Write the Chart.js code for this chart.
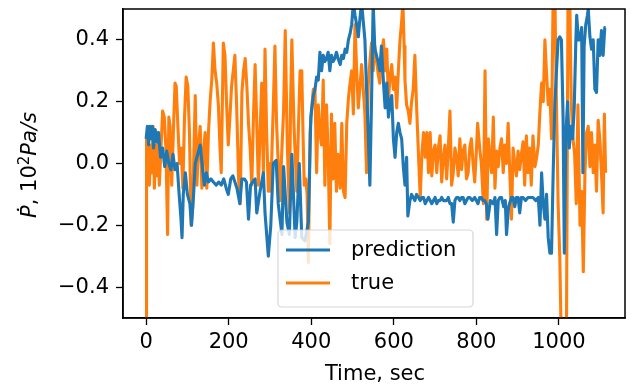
<!DOCTYPE html>
<html>
<head>
<meta charset="utf-8">
<script src="https://cdn.jsdelivr.net/npm/chart.js@4/dist/chart.umd.min.js"></script>
<style>
  body { margin: 0; background: #fff; }
  #wrap { width: 631px; height: 388px; }
</style>
</head>
<body>
<div id="wrap"><canvas id="graph" width="631" height="388"></canvas></div>
<script>
// values
const predTime = [0, 3, 6, 9, 12, 15, 18, 22, 26, 30, 35, 40, 45, 50, 55, 60, 65, 70, 75, 80, 84, 87, 90, 95, 100, 106, 110, 115, 119, 125, 131, 137, 141, 146, 151, 157, 163, 170, 176, 182, 188, 194, 199, 205, 210, 215, 220, 227, 232, 238, 243, 248, 253, 258, 264, 268, 276, 284, 288, 296, 302, 308, 315, 320, 329, 333, 341, 347, 353, 361, 365, 371, 377, 385, 393, 399, 405, 409, 413, 417, 421, 425, 429, 433, 437, 441, 445, 449, 453, 457, 461, 465, 470, 474, 478, 482, 486, 490, 494, 498, 502, 506, 510, 514, 518, 522, 526, 530, 534, 538, 542, 546, 550, 554, 558, 562, 566, 570, 575, 579, 583, 587, 591, 595, 599, 603, 607, 611, 615, 619, 623, 627, 631, 634, 639, 643, 647, 651, 655, 660, 664, 668, 672, 676, 680, 684, 688, 692, 696, 700, 704, 708, 712, 716, 720, 724, 728, 732, 736, 740, 744, 748, 752, 756, 760, 764, 768, 772, 776, 780, 784, 790, 796, 804, 808, 812, 816, 820, 824, 828, 834, 841, 845, 849, 853, 857, 861, 866, 870, 873, 878, 885, 889, 893, 897, 901, 905, 909, 913, 919, 925, 931, 937, 944, 950, 954, 958, 962, 966, 970, 974, 978, 982, 986, 990, 994, 998, 1002, 1006, 1010, 1013, 1017, 1021, 1025, 1029, 1033, 1037, 1041, 1043, 1047, 1051, 1055, 1058, 1061, 1065, 1069, 1071, 1075, 1079, 1083, 1087, 1091, 1095, 1099, 1103, 1107, 1111, 1113];
const predValue = [0.08, 0.12, 0.06, 0.12, 0.08, 0.12, 0.05, 0.11, 0.07, 0.10, 0.02, 0.05, -0.01, 0.04, 0.00, -0.02, 0.03, -0.02, 0.00, -0.10, -0.17, -0.24, -0.10, -0.03, -0.10, -0.13, -0.20, -0.10, 0.00, 0.03, 0.06, -0.02, -0.07, -0.03, -0.06, -0.05, -0.06, -0.07, -0.06, -0.07, -0.05, -0.08, -0.10, -0.05, -0.04, -0.06, -0.08, -0.13, -0.05, -0.05, -0.06, -0.18, -0.07, -0.06, -0.05, -0.16, -0.09, -0.03, -0.16, -0.30, -0.20, 0.00, 0.01, -0.13, -0.23, -0.01, -0.19, -0.23, 0.03, -0.24, -0.19, 0.00, -0.24, -0.25, -0.19, 0.15, 0.22, 0.24, 0.28, 0.27, 0.36, 0.30, 0.35, 0.33, 0.34, 0.36, 0.30, 0.35, 0.33, 0.34, 0.36, 0.34, 0.32, 0.35, 0.34, 0.37, 0.36, 0.40, 0.42, 0.45, 0.52, 0.48, 0.45, 0.41, 0.47, 0.52, 0.46, 0.40, 0.24, 0.10, -0.07, 0.20, 0.52, 0.37, 0.35, 0.33, 0.30, 0.38, 0.26, 0.18, 0.26, 0.15, 0.20, 0.22, 0.08, 0.02, 0.10, 0.13, 0.10, 0.08, -0.01, -0.07, 0.02, -0.17, -0.12, -0.10, -0.11, -0.12, -0.10, -0.11, -0.12, -0.11, -0.11, -0.13, -0.12, -0.11, -0.12, -0.13, -0.12, -0.11, -0.13, -0.12, -0.12, -0.11, -0.12, -0.12, -0.12, -0.11, -0.13, -0.13, -0.19, -0.12, -0.11, -0.11, -0.12, -0.11, -0.11, -0.13, -0.12, -0.11, -0.11, -0.12, -0.11, -0.13, -0.11, -0.11, -0.12, -0.12, -0.13, -0.18, -0.12, -0.13, -0.11, -0.23, -0.12, -0.11, -0.11, -0.14, -0.12, -0.23, -0.14, -0.11, -0.11, -0.14, -0.11, -0.11, -0.16, -0.11, -0.11, -0.12, -0.11, -0.11, -0.11, -0.12, -0.11, -0.20, -0.03, -0.13, -0.18, -0.10, -0.24, -0.29, -0.29, -0.03, 0.19, 0.30, 0.40, 0.41, 0.40, 0.15, -0.29, 0.10, 0.20, 0.05, 0.12, 0.08, 0.18, 0.40, 0.48, 0.40, 0.40, 0.44, -0.03, 0.38, 0.45, 0.48, 0.50, 0.41, 0.37, 0.40, 0.24, 0.23, 0.40, 0.35, 0.43, 0.35, 0.44, 0.44];

const trueTime = [0, 1, 3, 5, 8, 11, 14, 17, 20, 23, 26, 29, 32, 36, 40, 44, 48, 52, 55, 58, 62, 66, 70, 73, 77, 81, 85, 89, 93, 97, 101, 105, 109, 113, 116, 119, 123, 127, 131, 135, 139, 143, 147, 151, 155, 159, 163, 167, 171, 175, 179, 182, 187, 191, 195, 199, 203, 207, 211, 215, 219, 224, 228, 232, 236, 240, 244, 248, 252, 256, 260, 264, 268, 272, 276, 280, 284, 288, 292, 296, 299, 302, 305, 308, 312, 316, 320, 324, 328, 333, 337, 342, 347, 350, 353, 358, 362, 365, 369, 373, 377, 380, 383, 387, 390, 393, 397, 401, 405, 409, 413, 417, 421, 425, 429, 433, 437, 441, 445, 449, 453, 457, 461, 465, 470, 474, 478, 482, 486, 490, 494, 498, 502, 506, 510, 514, 518, 522, 526, 530, 534, 538, 542, 546, 550, 554, 558, 562, 566, 570, 575, 579, 583, 587, 591, 595, 599, 603, 607, 611, 615, 619, 622, 625, 627, 631, 635, 639, 643, 647, 651, 655, 660, 664, 668, 672, 676, 680, 684, 688, 692, 696, 700, 704, 708, 712, 716, 720, 724, 728, 732, 736, 740, 744, 748, 752, 756, 760, 764, 768, 772, 776, 780, 784, 788, 792, 796, 800, 803, 808, 812, 817, 821, 825, 829, 833, 837, 841, 845, 849, 853, 857, 861, 865, 869, 873, 877, 881, 885, 889, 893, 897, 901, 905, 909, 913, 917, 921, 925, 929, 933, 937, 942, 946, 950, 954, 958, 962, 966, 970, 974, 978, 982, 986, 990, 994, 998, 1002, 1006, 1012, 1018, 1022, 1026, 1030, 1034, 1038, 1042, 1046, 1051, 1055, 1059, 1063, 1067, 1071, 1075, 1079, 1083, 1087, 1091, 1095, 1099, 1103, 1107, 1110, 1113];
const trueValue = [-0.6, 0.09, -0.05, 0.10, -0.07, 0.06, -0.03, 0.12, -0.08, 0.06, -0.04, 0.10, -0.07, 0.05, 0.17, 0.15, 0.05, -0.23, 0.15, 0.12, -0.07, 0.10, 0.26, 0.25, 0.12, 0.00, 0.05, -0.08, 0.15, 0.28, 0.25, 0.10, -0.20, -0.14, 0.05, 0.22, -0.07, 0.06, 0.12, -0.08, 0.04, 0.10, -0.08, 0.10, 0.20, 0.27, 0.39, 0.30, 0.26, 0.19, 0.05, -0.03, 0.39, 0.35, 0.19, 0.06, 0.15, 0.25, 0.30, 0.35, 0.20, -0.05, -0.13, 0.23, 0.30, 0.34, 0.25, 0.13, 0.05, -0.07, 0.15, 0.32, 0.13, -0.07, 0.10, 0.26, -0.03, 0.37, 0.10, -0.09, 0.00, -0.09, 0.05, 0.18, 0.38, 0.13, 0.00, -0.12, 0.02, 0.17, 0.43, 0.06, -0.16, 0.20, 0.40, 0.13, 0.00, -0.09, 0.12, 0.30, 0.30, 0.10, -0.07, -0.05, -0.10, -0.32, 0.10, 0.18, 0.24, 0.24, -0.03, 0.19, 0.10, 0.06, 0.27, -0.07, 0.19, 0.03, -0.26, 0.16, -0.05, 0.13, -0.09, 0.03, -0.08, 0.13, -0.09, -0.11, 0.13, 0.21, 0.26, 0.30, 0.16, 0.45, 0.30, 0.18, 0.25, 0.32, 0.24, 0.16, -0.03, 0.25, 0.33, 0.39, 0.30, 0.38, 0.34, 0.29, 0.26, 0.35, 0.40, 0.30, 0.37, 0.21, 0.28, 0.32, 0.24, 0.28, 0.18, 0.30, 0.40, 0.46, 0.52, 0.38, 0.27, 0.19, 0.17, 0.13, 0.20, 0.24, 0.35, 0.19, 0.02, -0.11, 0.03, 0.10, 0.02, 0.10, -0.03, 0.10, -0.04, 0.04, 0.06, -0.03, 0.05, 0.09, -0.06, 0.02, 0.06, -0.05, 0.05, 0.17, -0.07, -0.03, 0.05, 0.02, -0.04, 0.08, -0.02, 0.04, 0.06, -0.05, -0.03, 0.05, 0.08, 0.00, -0.06, 0.04, 0.13, 0.05, 0.00, -0.13, 0.30, -0.18, 0.08, 0.02, -0.03, 0.15, -0.08, 0.04, -0.01, 0.05, 0.08, -0.03, 0.06, 0.00, 0.13, -0.03, -0.18, 0.05, 0.00, -0.04, 0.04, -0.02, 0.03, 0.07, -0.07, 0.09, -0.03, 0.05, -0.07, 0.09, -0.01, 0.02, 0.06, 0.17, 0.26, 0.20, 0.40, 0.29, 0.19, 0.24, 0.08, 0.55, 0.55, 0.19, -0.13, -0.30, -0.6, -0.6, -0.6, 0.55, 0.55, 0.19, 0.08, 0.03, -0.13, 0.19, -0.20, -0.09, -0.35, -0.03, 0.10, 0.12, -0.01, 0.10, -0.03, 0.06, -0.09, 0.14, 0.08, -0.03, -0.16, 0.16, -0.03];

const xTicks = [0, 200, 400, 600, 800, 1000];
const yTicks = [-0.4, -0.2, 0.0, 0.2, 0.4];
const seriesNames = ['prediction', 'true'];
const seriesColors = ['#1f77b4', '#ff7f0e'];

const FONT = "'DejaVu Sans', sans-serif";

function toPoints(xs, ys) {
    return xs.map((x, i) => ({ x: x, y: ys[i] }));
}

// no extra room for half tick labels, the plot box is placed by hand
function noPadding(s) {
    s.paddingTop = 0;
    s.paddingBottom = 0;
    s.paddingLeft = 0;
    s.paddingRight = 0;
}

// frame, axis titles and the legend box inside the plot
const decorations = {
    id: 'decorations',
    afterDatasetsDraw(chart) {
        const ctx = chart.ctx;
        const a = chart.chartArea;
        ctx.save();

        ctx.strokeStyle = '#000';
        ctx.lineWidth = 1.5;
        ctx.strokeRect(a.left, a.top, a.right - a.left, a.bottom - a.top);

        // legend
        const lx = 278, ly = 230, lw = 195, lh = 77, r = 4;
        ctx.beginPath();
        ctx.roundRect(lx, ly, lw, lh, r);
        ctx.fillStyle = 'rgba(255,255,255,0.8)';
        ctx.fill();
        ctx.strokeStyle = 'rgba(204,204,204,0.8)';
        ctx.lineWidth = 1.2;
        ctx.stroke();

        ctx.font = '21px ' + FONT;
        ctx.textBaseline = 'middle';
        ctx.textAlign = 'left';
        [250, 283].forEach((yy, i) => {
            ctx.strokeStyle = seriesColors[i];
            ctx.lineWidth = 3.1;
            ctx.beginPath();
            ctx.moveTo(286, yy);
            ctx.lineTo(330, yy);
            ctx.stroke();
            ctx.fillStyle = '#000';
            ctx.fillText(seriesNames[i], 351, yy + 1);
        });

        // x title
        ctx.textAlign = 'center';
        ctx.fillText('Time, sec', 375, 375);

        // y title, built from pieces like mathtext
        const parts = [
            { t: 'Ṗ', f: 'italic 21px ' + FONT, dy: 0 },
            { t: ', 10', f: '21px ' + FONT, dy: 0 },
            { t: '2', f: '15px ' + FONT, dy: -7 },
            { t: 'Pa/s', f: 'italic 21px ' + FONT, dy: 0 }
        ];
        let total = 0;
        parts.forEach(p => { ctx.font = p.f; p.w = ctx.measureText(p.t).width; total += p.w; });
        ctx.translate(29, 165);
        ctx.rotate(-Math.PI / 2);
        ctx.textAlign = 'left';
        ctx.textBaseline = 'alphabetic';
        let px = -total / 2;
        parts.forEach(p => {
            ctx.font = p.f;
            ctx.fillText(p.t, px, 7 + p.dy);
            px += p.w;
        });
        ctx.restore();
    }
};

const ctx = document.getElementById('graph').getContext('2d');
new Chart(ctx, {
    type: 'line',
    data: {
        datasets: [
            {
                label: seriesNames[0],
                data: toPoints(predTime, predValue),
                borderColor: seriesColors[0],
                borderWidth: 3.1,
                pointRadius: 0,
                tension: 0,
                borderJoinStyle: 'round',
                fill: false
            },
            {
                label: seriesNames[1],
                data: toPoints(trueTime, trueValue),
                borderColor: seriesColors[1],
                borderWidth: 3.1,
                pointRadius: 0,
                tension: 0,
                borderJoinStyle: 'round',
                fill: false
            }
        ]
    },
    options: {
        responsive: false,
        animation: false,
        layout: { padding: { top: 9, right: 6, left: 0, bottom: 0 } },
        plugins: {
            legend: { display: false },
            tooltip: { enabled: false }
        },
        scales: {
            x: {
                type: 'linear',
                min: -56,
                max: 1160,
                afterFit: s => { s.height = 70; noPadding(s); },
                afterBuildTicks: s => { s.ticks = xTicks.map(v => ({ value: v })); },
                grid: { drawOnChartArea: false, tickLength: 7, tickColor: '#000', tickWidth: 1.3 },
                border: { display: true, color: '#000', width: 1.5 },
                ticks: {
                    color: '#000',
                    font: { family: FONT, size: 21 },
                    padding: 5,
                    maxRotation: 0,
                    callback: v => String(v)
                }
            },
            y: {
                min: -0.5,
                max: 0.5,
                afterFit: s => { s.width = 123; noPadding(s); },
                afterBuildTicks: s => { s.ticks = yTicks.map(v => ({ value: v })); },
                grid: { drawOnChartArea: false, tickLength: 7, tickColor: '#000', tickWidth: 1.3 },
                border: { display: true, color: '#000', width: 1.5 },
                ticks: {
                    color: '#000',
                    font: { family: FONT, size: 21 },
                    padding: 7,
                    callback: v => v.toFixed(1).replace('-', '\u2212')
                }
            }
        }
    },
    plugins: [decorations]
});
</script>
</body>
</html>
